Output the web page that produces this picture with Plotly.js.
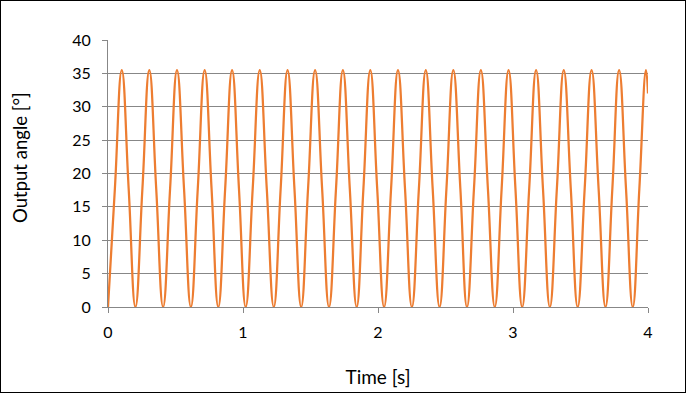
<!DOCTYPE html>
<html>
<head>
<meta charset="utf-8">
<script src="https://cdn.plot.ly/plotly-3.0.1.min.js"></script>
<style>
html,body{margin:0;padding:0;background:#fff;}
#frame{width:684px;height:391px;border:1px solid #000;position:relative;overflow:hidden;}
#chart{position:absolute;left:-1px;top:-1px;width:686px;height:393px;}
</style>
</head>
<body>
<div id="frame"><div id="chart"></div></div>
<script>
// Time samples [s] (troughs, mid-rise, peaks, mid-fall)
const timeS = [0, 0.051, 0.102, 0.153, 0.203, 0.255, 0.306, 0.357, 0.408, 0.460,
  0.511, 0.563, 0.614, 0.665, 0.716, 0.767, 0.817, 0.868, 0.919, 0.970,
  1.020, 1.072, 1.124, 1.176, 1.228, 1.279, 1.330, 1.381, 1.431, 1.482,
  1.534, 1.586, 1.637, 1.689, 1.740, 1.791, 1.842, 1.892, 1.943, 1.994,
  2.045, 2.097, 2.148, 2.200, 2.251, 2.303, 2.354, 2.405, 2.456, 2.507,
  2.558, 2.610, 2.659, 2.711, 2.762, 2.814, 2.865, 2.916, 2.967, 3.018,
  3.068, 3.120, 3.171, 3.222, 3.273, 3.325, 3.376, 3.428, 3.479, 3.531,
  3.582, 3.634, 3.685, 3.736, 3.786, 3.837, 3.887, 3.936, 3.985, 4.0];
// Output angle [deg] read at those times
const angleDeg = [0, 17.75, 35.5, 17.75, 0, 17.75, 35.5, 17.75, 0, 17.75,
  35.5, 17.75, 0, 17.75, 35.5, 17.75, 0, 17.75, 35.5, 17.75,
  0, 17.75, 35.5, 17.75, 0, 17.75, 35.5, 17.75, 0, 17.75,
  35.5, 17.75, 0, 17.75, 35.5, 17.75, 0, 17.75, 35.5, 17.75,
  0, 17.75, 35.5, 17.75, 0, 17.75, 35.5, 17.75, 0, 17.75,
  35.5, 17.75, 0, 17.75, 35.5, 17.75, 0, 17.75, 35.5, 17.75,
  0, 17.75, 35.5, 17.75, 0, 17.75, 35.5, 17.75, 0, 17.75,
  35.5, 17.75, 0, 17.75, 35.5, 17.75, 0, 17.75, 35.5, 32];
const xTicks = [0, 1, 2, 3, 4];
const yTicks = [0, 5, 10, 15, 20, 25, 30, 35, 40];
const xTitle = 'Time [s]';
const yTitle = 'Output angle [°]';

const fontFam = 'Lato, "Noto Sans", sans-serif';
const grey = '#878787';

Plotly.newPlot('chart', [{
  x: timeS, y: angleDeg, type: 'scatter', mode: 'lines',
  line: {color: '#ED7D31', width: 2.25, shape: 'spline', smoothing: 1.3},
  hoverinfo: 'skip'
}], {
  width: 686, height: 393,
  margin: {l: 108, r: 38, t: 40, b: 86},
  paper_bgcolor: '#fff', plot_bgcolor: '#fff',
  showlegend: false,
  font: {family: fontFam, size: 16, color: '#000'},
  xaxis: {
    range: [0, 4], tickvals: xTicks, ticktext: xTicks.map(String),
    showgrid: false, zeroline: false,
    showline: true, linecolor: grey, linewidth: 1,
    ticks: 'outside', ticklen: 5, tickcolor: grey,
    ticklabelstandoff: 6,
    title: {text: xTitle, font: {family: fontFam, size: 19}, standoff: 30}
  },
  yaxis: {
    range: [0, 40], tickvals: yTicks, ticktext: yTicks.map(String),
    showgrid: true, gridcolor: grey, gridwidth: 1, zeroline: false,
    showline: true, linecolor: grey, linewidth: 1,
    ticks: 'outside', ticklen: 5, tickcolor: grey,
    ticklabelstandoff: 8
  },
  annotations: [{
    text: yTitle, textangle: -90, showarrow: false,
    xref: 'paper', yref: 'paper', x: -0.163, y: 0.562,
    xanchor: 'center', yanchor: 'middle',
    font: {family: fontFam, size: 18.5, color: '#000'}
  }]
}, {staticPlot: true, displayModeBar: false});
</script>
</body>
</html>
